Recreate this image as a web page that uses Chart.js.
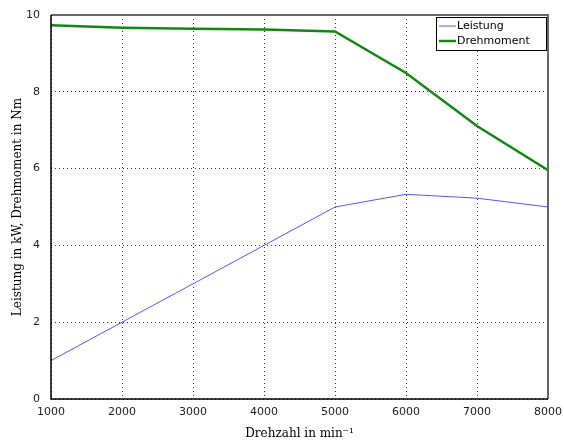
<!DOCTYPE html>
<html>
<head>
<meta charset="utf-8">
<script src="https://cdn.jsdelivr.net/npm/chart.js@4/dist/chart.umd.min.js"></script>
<style>
  body { margin: 0; background: #fff; }
  #wrap { width: 564px; height: 441px; }
</style>
</head>
<body>
<div id="wrap"><canvas id="chart" width="564" height="441"></canvas></div>
<script>
var drehzahl = [1000, 2000, 3000, 4000, 5000, 6000, 7000, 8000];
var leistung = [1.0, 2.0, 3.0, 4.0, 5.0, 5.33, 5.23, 5.0];
var drehmoment = [9.73, 9.67, 9.64, 9.62, 9.57, 8.49, 7.11, 5.96];
var yTicks = [0, 2, 4, 6, 8, 10];

function toPoints(xs, ys) {
  return xs.map(function (x, i) { return { x: x, y: ys[i] }; });
}

// frame + legend inside the plot, top right
var frameLegend = {
  id: 'frameLegend',
  afterDraw: function (chart) {
    var ctx = chart.ctx, a = chart.chartArea;
    ctx.save();
    ctx.strokeStyle = '#666';
    ctx.lineWidth = 2;
    ctx.beginPath();
    ctx.moveTo(a.left, a.top);
    ctx.lineTo(a.right, a.top);
    ctx.lineTo(a.right, a.bottom);
    ctx.stroke();
    ctx.strokeStyle = '#000';
    ctx.lineWidth = 1.5;
    ctx.beginPath();
    ctx.moveTo(a.left, a.top);
    ctx.lineTo(a.left, a.bottom);
    ctx.lineTo(a.right, a.bottom);
    ctx.stroke();

    // legend box
    var w = 110, h = 33;
    var x0 = a.right - w - 2, y0 = a.top + 2;
    ctx.fillStyle = '#fff';
    ctx.fillRect(x0, y0, w, h);
    ctx.strokeStyle = '#000';
    ctx.lineWidth = 1;
    ctx.strokeRect(x0 + 0.5, y0 + 0.5, w, h);
    ctx.font = '11px "DejaVu Sans"';
    ctx.textBaseline = 'middle';
    chart.data.datasets.forEach(function (ds, i) {
      var yy = y0 + 9 + i * 15;
      ctx.strokeStyle = ds.borderColor;
      ctx.lineWidth = ds.borderWidth;
      ctx.beginPath();
      ctx.moveTo(x0 + 3, yy);
      ctx.lineTo(x0 + 20, yy);
      ctx.stroke();
      ctx.fillStyle = '#000';
      ctx.fillText(ds.label, x0 + 21, yy);
    });
    ctx.restore();
  }
};

new Chart(document.getElementById('chart'), {
  type: 'line',
  data: {
    datasets: [{
      label: 'Leistung',
      data: toPoints(drehzahl, leistung),
      borderColor: '#5555ff',
      borderWidth: 1,
      pointRadius: 0,
      tension: 0
    }, {
      label: 'Drehmoment',
      data: toPoints(drehzahl, drehmoment),
      borderColor: '#118811',
      borderWidth: 2.5,
      pointRadius: 0,
      tension: 0
    }]
  },
  options: {
    responsive: false,
    animation: false,
    layout: { padding: { top: 15, right: 16, left: 0, bottom: 0 } },
    plugins: {
      legend: { display: false },
      tooltip: { enabled: false }
    },
    scales: {
      x: {
        type: 'linear',
        min: 1000,
        max: 8000,
        afterFit: function (s) {
          s.height = 42;
          s.paddingLeft = 0;
          s.paddingRight = 0;
        },
        ticks: {
          stepSize: 1000,
          padding: 7,
          color: '#222',
          font: { family: 'DejaVu Sans', size: 11 },
          callback: function (v) { return String(v); }
        },
        grid: { color: '#333', drawTicks: false, lineWidth: 1 },
        border: { display: false, dash: [1, 3] },
        title: {
          display: true,
          text: 'Drehzahl in min\u207B\u00B9',
          color: '#000',
          font: { family: 'DejaVu Serif', size: 12 },
          padding: { top: 2, bottom: 0 }
        }
      },
      y: {
        min: 0,
        max: 10,
        afterFit: function (s) {
          s.width = 51;
          s.paddingTop = 0;
          s.paddingBottom = 0;
        },
        afterBuildTicks: function (s) {
          s.ticks = yTicks.map(function (v) { return { value: v }; });
        },
        ticks: {
          padding: 11,
          color: '#222',
          font: { family: 'DejaVu Sans', size: 11 }
        },
        grid: { color: '#333', drawTicks: false, lineWidth: 1 },
        border: { display: false, dash: [1, 3] },
        title: {
          display: true,
          text: 'Leistung in kW, Drehmoment in Nm',
          color: '#000',
          font: { family: 'DejaVu Serif', size: 12 },
          padding: { top: 11, bottom: 0 }
        }
      }
    }
  },
  plugins: [frameLegend]
});
</script>
</body>
</html>
